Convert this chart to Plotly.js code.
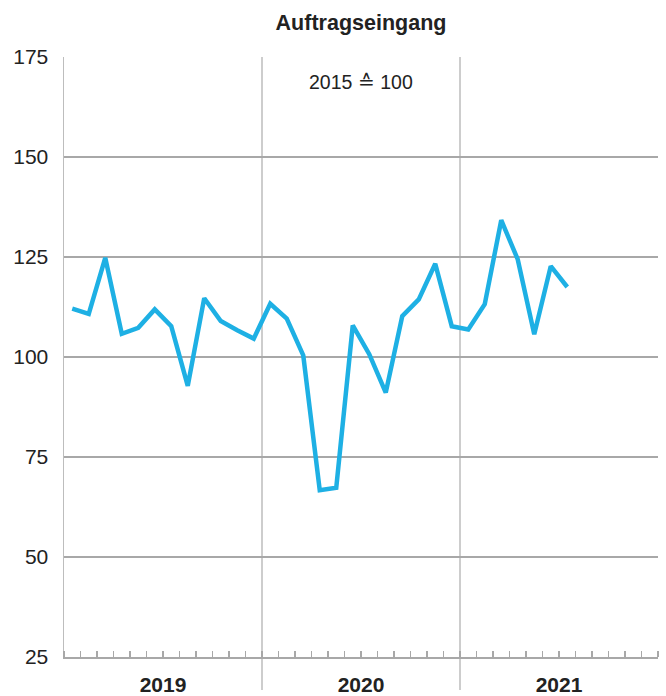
<!DOCTYPE html>
<html>
<head>
<meta charset="utf-8">
<script src="https://cdn.plot.ly/plotly-3.0.1.min.js"></script>
<style>html,body{margin:0;padding:0;background:#fff;}#chart{width:666px;height:696px;}</style>
</head>
<body>
<div id="chart"></div>
<script>
// Monthly values Jan 2019 .. Jul 2021 (2015 = 100)
const orderValues = [112.1, 110.8, 124.8, 105.8, 107.3, 111.9, 107.7, 92.8, 114.7, 109.0, 106.7, 104.6,
                     113.3, 109.6, 100.4, 66.7, 67.3, 107.9, 100.7, 91.1, 110.2, 114.4, 123.3, 107.7,
                     106.9, 113.2, 134.2, 124.4, 105.7, 122.7, 117.5];
const years = ["2019", "2020", "2021"];
const yTicks = [25, 50, 75, 100, 125, 150, 175];
const titleText = "Auftragseingang";
const noteText = "2015 ≙ 100";
const monthsPerYear = 12;

const xPos = orderValues.map((v, i) => i + 0.5);
const yearCenters = years.map((y, i) => i * monthsPerYear + monthsPerYear / 2);
const yearBounds = years.slice(1).map((y, i) => (i + 1) * monthsPerYear);

const font = "Liberation Sans, Arial, Helvetica, sans-serif";
const trace = {
  x: xPos, y: orderValues, type: "scatter", mode: "lines",
  line: {color: "#1eb0e4", width: 4.5, join: "miter"},
  hoverinfo: "skip"
};

const shapes = yearBounds.map(b => ({
  type: "line", xref: "x", yref: "paper", x0: b, x1: b, y0: -0.055, y1: 1,
  line: {color: "#bdbdbd", width: 1.5}, layer: "between"
}));
shapes.push({type: "line", xref: "paper", yref: "y", x0: 0, x1: 1, y0: 100, y1: 100,
  line: {color: "#222", width: 2}, layer: "between"});

const layout = {
  width: 666, height: 696,
  margin: {l: 64, r: 8, t: 57, b: 39},
  paper_bgcolor: "#fff", plot_bgcolor: "#fff",
  showlegend: false,
  font: {family: font, color: "#222", size: 21},
  title: {text: titleText, font: {family: font, size: 21.5, weight: "bold", color: "#222"},
    x: 0.5, xref: "paper", xanchor: "center", y: 1 - 22 / 696, yref: "container", yanchor: "middle"},
  xaxis: {
    range: [0, years.length * monthsPerYear], fixedrange: true,
    tickmode: "array", tickvals: yearCenters, ticktext: years, ticks: "",
    tickfont: {family: font, size: 21, weight: "bold", color: "#222"},
    ticklabelstandoff: 8,
    showgrid: false, zeroline: false,
    showline: true, linecolor: "#a8a8a8", linewidth: 1.5,
    minor: {tick0: 0, dtick: 1, ticks: "inside", ticklen: 6, tickcolor: "#a8a8a8", tickwidth: 1.2, showgrid: false}
  },
  yaxis: {
    range: [25, 175], fixedrange: true,
    tickmode: "array", tickvals: yTicks, ticks: "",
    tickfont: {family: font, size: 21, color: "#222"},
    ticklabelstandoff: 10,
    showgrid: true, gridcolor: "#a8a8a8", gridwidth: 1.5,
    zeroline: false,
    showline: true, linecolor: "#bdbdbd", linewidth: 1.5
  },
  shapes: shapes,
  annotations: [{
    text: noteText, xref: "x", yref: "y", x: yearCenters[1], y: 168.75,
    xanchor: "center", yanchor: "middle", showarrow: false,
    font: {family: font, size: 19.5, color: "#222"}
  }]
};

Plotly.newPlot("chart", [trace], layout, {staticPlot: true, displayModeBar: false});
</script>
</body>
</html>
